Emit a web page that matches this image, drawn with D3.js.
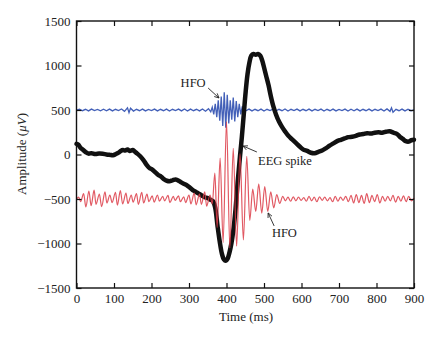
<!DOCTYPE html>
<html><head><meta charset="utf-8">
<script src="https://cdn.jsdelivr.net/npm/d3@7"></script>
<style>body{margin:0;background:#fff}svg{display:block}text{font-family:"Liberation Serif","DejaVu Serif",serif;fill:#222}</style>
</head><body><svg id="c" width="440" height="339"></svg>
<script>
const xTicks=[0,100,200,300,400,500,600,700,800,900];
const yTicks=[-1500,-1000,-500,0,500,1000,1500];
// EEG spike (black)
const eegT=[0,5,10,18,25,32,40,50,60,70,80,90,97,105,112,118,124,130,136,142,150,156,162,170,178,186,194,202,210,218,226,234,241,248,256,264,270,278,286,294,302,310,318,326,334,342,350,358,364,370,376,382,388,393,398,403,408,413,418,424,430,436,441,446,451,456,461,466,472,478,484,490,495,500,506,512,518,525,532,540,548,556,565,575,585,595,605,615,625,635,645,655,665,675,685,695,705,715,725,735,745,755,765,775,785,795,805,815,825,835,845,855,862,870,878,886,893,900];
const eegV=[120,110,80,50,25,10,15,5,10,8,0,-5,-8,5,20,40,50,45,55,40,50,30,10,-20,-60,-110,-150,-170,-200,-230,-250,-280,-295,-300,-290,-280,-290,-310,-330,-345,-370,-400,-420,-440,-460,-480,-490,-510,-525,-600,-800,-980,-1120,-1180,-1195,-1170,-1100,-1000,-860,-620,-300,-20,200,450,700,900,1030,1110,1130,1120,1130,1110,1060,980,880,780,660,540,450,370,310,260,210,170,130,90,55,40,20,15,30,45,70,100,125,150,165,180,195,200,210,225,230,240,235,245,250,245,255,260,245,230,200,175,150,145,160,165];
// Red HFO (band-passed, offset -500): peaks and troughs
const redT=[0,6,11,19,25,33,39,47,52,61,67,76,81,89,95,104,109,117,123,132,137,146,151,160,165,174,179,188,193,202,207,216,221,230,235,244,249,258,263,272,277,286,291,300,305,314,319,328,333,342,347,356,362,369,375,383,391,400,409,418,427,436,445,454,462,470,478,486,494,502,510,518,526,534,542,550,557,564,571,578,585,592,599,606,613,620,627,634,641,648,655,662,669,676,683,690,697,704,711,718,725,732,739,746,753,760,767,774,781,788,795,802,809,816,823,830,837,844,851,858,865,872,879,886,893,900];
const redV=[-500,-480,-530,-440,-590,-410,-575,-400,-560,-445,-585,-420,-545,-455,-540,-425,-570,-405,-555,-435,-550,-455,-535,-440,-560,-425,-545,-445,-530,-465,-535,-455,-525,-470,-520,-460,-540,-470,-515,-465,-530,-475,-540,-455,-555,-435,-565,-445,-560,-420,-580,-455,-555,-210,-820,-40,-990,370,-1050,70,-1030,10,-960,-20,-740,-390,-640,-330,-660,-360,-640,-420,-600,-450,-550,-470,-520,-480,-525,-475,-520,-480,-515,-485,-525,-470,-520,-480,-530,-475,-515,-480,-520,-485,-530,-470,-525,-480,-515,-470,-530,-460,-545,-450,-540,-460,-550,-440,-540,-460,-530,-450,-545,-470,-525,-470,-520,-460,-535,-470,-525,-465,-530,-470,-520,-490];
// Blue HFO (offset +500)
const blueT=[0,8,16,24,32,40,48,56,64,72,80,88,96,104,112,120,128,136,140,144,152,160,168,176,184,192,200,208,216,224,232,240,248,256,264,272,280,288,296,304,312,320,328,336,344,352,358,362,366,370,374,378,382,386,390,394,398,402,406,410,414,418,422,426,430,434,438,442,446,452,460,468,476,484,492,500,508,516,524,532,540,548,556,564,572,580,588,596,604,612,620,628,636,644,652,660,668,676,684,692,700,708,716,724,732,740,748,756,764,772,780,788,796,804,812,820,828,836,840,844,852,860,868,876,884,892,900];
const blueV=[500,510,492,508,490,510,493,507,491,509,492,510,490,508,494,512,485,525,470,520,488,508,492,510,490,507,493,510,490,508,492,510,489,508,494,510,490,512,488,510,492,508,490,512,486,515,480,530,450,570,420,610,380,650,320,700,300,670,350,610,390,640,370,600,420,570,450,540,480,492,510,490,508,492,510,489,508,493,510,490,508,492,511,489,508,493,510,490,508,492,510,490,508,493,510,489,508,492,510,490,507,493,510,489,509,492,510,490,508,492,510,490,508,493,510,488,512,485,525,475,508,492,510,490,508,492,500];

const svg=d3.select('#c');
const m={l:76.5,t:21,r:414,b:288};
const x=d3.scaleLinear().domain([0,900]).range([m.l,m.r]);
const y=d3.scaleLinear().domain([-1500,1500]).range([m.b,m.t]);

const plot=svg.append('g');
const mk=(T,V)=>T.map((t,i)=>[t,V[i]]);
plot.append('path').datum(mk(blueT,blueV))
  .attr('d',d3.line().x(d=>x(d[0])).y(d=>y(d[1])))
  .attr('fill','none').attr('stroke','#4360b8').attr('stroke-width',1.3);
plot.append('path').datum(mk(eegT,eegV))
  .attr('d',d3.line().x(d=>x(d[0])).y(d=>y(d[1])).curve(d3.curveCatmullRom))
  .attr('fill','none').attr('stroke','#111').attr('stroke-width',4.5).attr('stroke-linejoin','round').attr('stroke-linecap','round');
plot.append('path').datum(mk(redT,redV))
  .attr('d',d3.line().x(d=>x(d[0])).y(d=>y(d[1])).curve(d3.curveMonotoneX))
  .attr('fill','none').attr('stroke','#dc3c48').attr('stroke-width',1.2).attr('stroke-opacity',0.85);

// frame
svg.append('rect').attr('x',m.l).attr('y',m.t).attr('width',m.r-m.l).attr('height',m.b-m.t)
  .attr('fill','none').attr('stroke','#111').attr('stroke-width',1.4);

const fmt=d=>d<0?'\u2212'+Math.abs(d):String(d);
const ax=svg.append('g').attr('transform',`translate(${m.l},0)`).call(d3.axisLeft(y).tickValues(yTicks).tickSize(-5).tickFormat(fmt).tickPadding(6));
const ar=svg.append('g').attr('transform',`translate(${m.r},0)`).call(d3.axisRight(y).tickValues(yTicks).tickSize(-5).tickFormat(''));
const ab=svg.append('g').attr('transform',`translate(0,${m.b})`).call(d3.axisBottom(x).tickValues(xTicks).tickSize(-5).tickFormat(fmt).tickPadding(6));
const at=svg.append('g').attr('transform',`translate(0,${m.t})`).call(d3.axisTop(x).tickValues(xTicks).tickSize(-5).tickFormat(''));
[ax,ar,ab,at].forEach(g=>{g.select('.domain').remove();g.selectAll('line').attr('stroke','#111').attr('stroke-width',1.2);
  g.selectAll('text').attr('font-size',13).attr('font-family','"Liberation Serif",serif').attr('fill','#222');});

svg.append('text').attr('x',246).attr('y',321).attr('text-anchor','middle').attr('font-size',13).text('Time (ms)');
const yl=svg.append('text').attr('transform','translate(26,154) rotate(-90)').attr('text-anchor','middle').attr('font-size',13);
yl.append('tspan').text('Amplitude (');
yl.append('tspan').attr('font-style','italic').text('\u03BCV');
yl.append('tspan').text(')');

// annotations (data coords)
const notes=[
 {text:'HFO',tx:311,tv:760,anchor:'middle',from:[351,747],to:[380,635]},
 {text:'EEG spike',tx:484,tv:-115,anchor:'start',from:[481,28],to:[444,95]},
 {text:'HFO',tx:521,tv:-925,anchor:'start',from:[527,-803],to:[511,-657]}
];
notes.forEach(n=>{
  svg.append('text').attr('x',x(n.tx)).attr('y',y(n.tv)).attr('text-anchor',n.anchor).attr('font-size',12.5).text(n.text);
  const x1=x(n.from[0]),y1=y(n.from[1]),x2=x(n.to[0]),y2=y(n.to[1]);
  svg.append('line').attr('x1',x1).attr('y1',y1).attr('x2',x2).attr('y2',y2).attr('stroke','#222').attr('stroke-width',0.9);
  const a=Math.atan2(y1-y2,x1-x2),L=5,s=0.45;
  svg.append('path').attr('d',`M${x2+L*Math.cos(a+s)},${y2+L*Math.sin(a+s)}L${x2},${y2}L${x2+L*Math.cos(a-s)},${y2+L*Math.sin(a-s)}`)
    .attr('fill','none').attr('stroke','#222').attr('stroke-width',0.9);
});
</script></body></html>
